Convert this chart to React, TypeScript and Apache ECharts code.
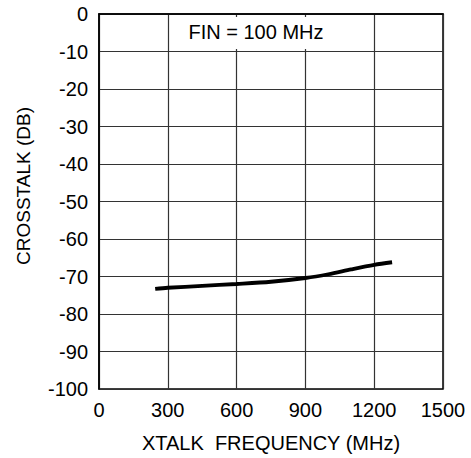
import React, { useEffect, useRef } from "react";
import * as echarts from "echarts";

const freqMHz = [245, 300, 450, 600, 750, 900, 1000, 1100, 1200, 1278];
const crosstalkDb = [-73.3, -73.0, -72.5, -72.0, -71.4, -70.4, -69.4, -68.1, -66.9, -66.2];
const xTicks = [0, 300, 600, 900, 1200, 1500];
const yTicks = [0, -10, -20, -30, -40, -50, -60, -70, -80, -90, -100];
const noteText = "FIN = 100 MHz";
const xName = "XTALK  FREQUENCY (MHz)";
const yName = "CROSSTALK (DB)";

const FONT = "'Liberation Sans', Arial, Helvetica, sans-serif";

export default function App() {
  const ref = useRef<HTMLDivElement>(null);
  useEffect(() => {
    if (!ref.current) return;
    const chart = echarts.init(ref.current, undefined, { renderer: "svg" });
    const data = freqMHz.map((f, i) => [f, crosstalkDb[i]]);
    chart.setOption({
      animation: false,
      backgroundColor: "#ffffff",
      textStyle: { fontFamily: FONT },
      grid: {
        left: 99,
        top: 14,
        width: 344,
        height: 379,
        show: true,
        borderColor: "#000",
        borderWidth: 1.5,
        backgroundColor: "transparent",
      },
      xAxis: {
        type: "value",
        min: xTicks[0],
        max: xTicks[xTicks.length - 1],
        interval: 300,
        name: xName,
        nameLocation: "middle",
        nameGap: 44,
        nameTextStyle: { fontSize: 20, color: "#000", fontFamily: FONT },
        axisLine: { show: true, lineStyle: { color: "#000", width: 1.5 } },
        axisTick: { show: false },
        axisLabel: {
          fontSize: 20,
          color: "#000",
          margin: 11,
          fontFamily: FONT,
          formatter: (v: number) => String(v),
        },
        splitLine: { show: true, lineStyle: { color: "#333", width: 1.2 } },
      },
      yAxis: {
        type: "value",
        min: yTicks[yTicks.length - 1],
        max: yTicks[0],
        interval: 10,
        axisLine: { show: true, lineStyle: { color: "#000", width: 1.5 } },
        axisTick: { show: false },
        axisLabel: {
          fontSize: 20,
          color: "#000",
          margin: 11,
          fontFamily: FONT,
          formatter: (v: number) => String(v),
        },
        splitLine: { show: true, lineStyle: { color: "#333", width: 1.2 } },
      },
      graphic: [
        {
          type: "text",
          x: 23,
          y: 186,
          rotation: Math.PI / 2,
          style: {
            text: yName,
            fontSize: 19,
            fontFamily: FONT,
            fill: "#000",
            align: "center",
            verticalAlign: "middle",
          },
        },
        {
          type: "rect",
          shape: { x: 173, y: 17, width: 168, height: 32 },
          style: { fill: "#fff" },
          z: 10,
        },
        {
          type: "text",
          x: 256,
          y: 32,
          style: {
            text: noteText,
            fontSize: 20,
            fontFamily: FONT,
            fill: "#000",
            align: "center",
            verticalAlign: "middle",
          },
          z: 11,
        },
      ],
      series: [
        {
          type: "line",
          data,
          smooth: 0.3,
          showSymbol: false,
          lineStyle: { color: "#000", width: 3.8 },
          z: 5,
        },
      ],
    });
    return () => chart.dispose();
  }, []);
  return (
    <div
      ref={ref}
      style={{ position: "fixed", left: 0, top: 0, width: 471, height: 458 }}
    />
  );
}
